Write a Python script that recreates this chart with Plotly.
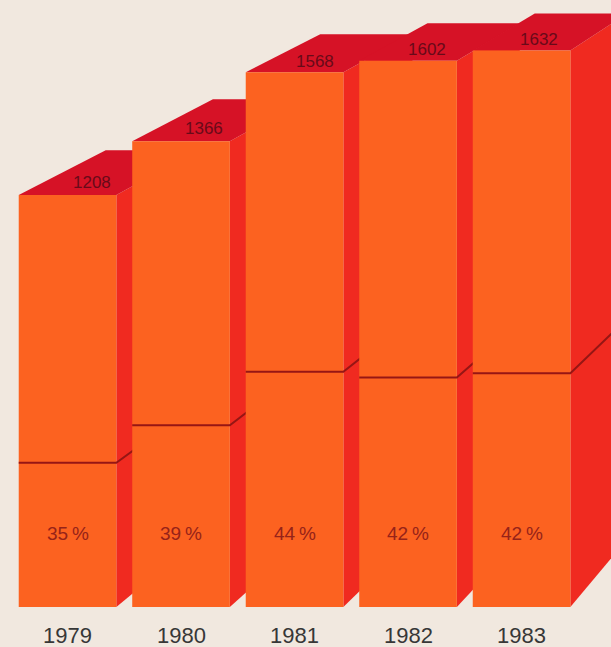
import plotly.graph_objects as go

# ---- data ----
years = ["1979", "1980", "1981", "1982", "1983"]
totals = [1208, 1366, 1568, 1602, 1632]
shares = [35, 39, 44, 42, 42]  # percent of total (lower segment)

# ---- style / geometry constants ----
BG = "rgb(241,232,223)"
FRONT = "rgb(252,98,32)"
SIDE = "rgb(240,42,32)"
TOP = "rgb(214,18,38)"
DIVIDER = "rgb(150,22,20)"
PCT_COLOR = "rgb(150,35,25)"
TOP_TXT = "rgb(105,10,25)"
YEAR_COLOR = "rgb(55,55,55)"

BAR_W = 0.86
VP = (13.5, 3600.0)   # vanishing point in data coordinates
DEPTH = 0.055         # perspective depth fraction
LABEL_DEPTH = 0.016

X_RANGE = [-0.595, 4.788]
Y_RANGE = [-117.3, 1780.0]


def recede(x, y, t=DEPTH):
    return x + t * (VP[0] - x), y + t * (VP[1] - y)


fig = go.Figure()


def poly(xs, ys, color):
    fig.add_trace(go.Scatter(
        x=xs + [xs[0]], y=ys + [ys[0]], mode="lines", fill="toself",
        fillcolor=color, line=dict(width=0, color=color),
        hoverinfo="skip", showlegend=False))


annotations = []
for i, (yr, tot, sh) in enumerate(zip(years, totals, shares)):
    L = i - BAR_W / 2
    R = i + BAR_W / 2
    s = tot * sh / 100.0
    # side face
    b0 = recede(R, 0)
    b1 = recede(R, tot)
    poly([R, R, b1[0], b0[0]], [0, tot, b1[1], b0[1]], SIDE)
    # top face
    tl = recede(L, tot)
    tr = recede(R, tot)
    poly([L, R, tr[0], tl[0]], [tot, tot, tr[1], tl[1]], TOP)
    # front face
    poly([L, R, R, L], [0, 0, tot, tot], FRONT)
    # divider line
    d = recede(R, s)
    fig.add_trace(go.Scatter(
        x=[L, R, d[0]], y=[s, s, d[1]], mode="lines",
        line=dict(color=DIVIDER, width=2), hoverinfo="skip", showlegend=False))
    # labels
    lx, ly = recede(i, tot, LABEL_DEPTH)
    annotations.append(dict(x=lx, y=ly, text=str(tot), showarrow=False,
                            font=dict(size=17, color=TOP_TXT, family="Liberation Sans, Arial"),
                            xanchor="center", yanchor="middle"))
    annotations.append(dict(x=i, y=217, text=f"{sh}\u2009%", showarrow=False,
                            font=dict(size=19, color=PCT_COLOR, family="Liberation Sans, Arial"),
                            xanchor="center", yanchor="middle"))
    annotations.append(dict(x=i, y=-85, text=yr, showarrow=False,
                            font=dict(size=22, color=YEAR_COLOR, family="Liberation Sans, Arial"),
                            xanchor="center", yanchor="middle"))

fig.update_layout(
    width=611, height=647,
    margin=dict(l=0, r=0, t=0, b=0),
    paper_bgcolor=BG, plot_bgcolor=BG,
    xaxis=dict(range=X_RANGE, visible=False, fixedrange=True),
    yaxis=dict(range=Y_RANGE, visible=False, fixedrange=True),
    annotations=annotations,
    showlegend=False,
)

fig.write_html(
    "out.html",
    config={"displayModeBar": False, "staticPlot": True},
    post_script="document.body.style.margin='0';document.body.style.overflow='hidden';",
)
